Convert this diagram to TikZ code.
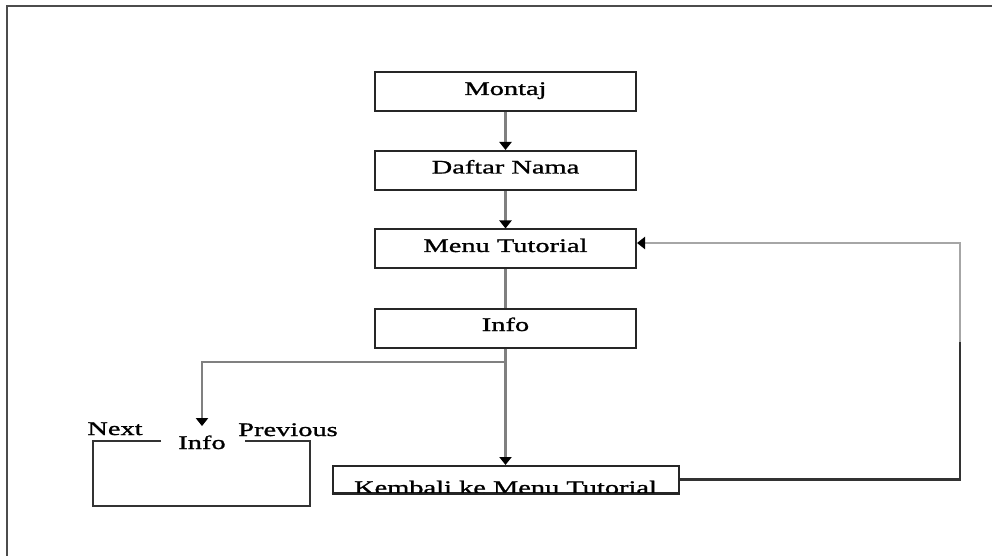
\documentclass[tikz,border=0pt]{standalone}
\usepackage{fontspec}
\setmainfont{Liberation Serif}[FakeStretch=1.48,FakeBold=1.2]
\usetikzlibrary{arrows.meta}

\tikzset{
  box/.style={draw=black!85,line width=1pt,minimum width=130.5pt,minimum height=19.5pt,
    inner sep=0pt,text height=7pt,text depth=4pt,font=\fontsize{9.6}{11}\selectfont},
  lbl/.style={inner sep=0pt,font=\fontsize{9.6}{11}\selectfont},
  link/.style={draw=black!50,line width=1.1pt},
  arr/.style={link,-{Triangle[length=4pt,width=6pt,black]}},
}

\begin{document}
\begin{tikzpicture}[x=0.5pt,y=-0.5pt]
\useasboundingbox (0,0) rectangle (992,556);
\draw[line width=1pt,black!70] (7,556) |- (992,6);

% main column
\node[box] (montaj) at (505.5,92) {Montaj};
\node[box] (daftar) at (505.5,170.5) {Daftar Nama};
\node[box] (menu) at (505.5,249) {Menu Tutorial};
\node[box] (info) at (505.5,328) {Info};
\node[box,minimum width=173pt,minimum height=13.5pt] (kembali) at (505.5,479.5) {};
\node[lbl,anchor=base] (kembalitxt) at (505.5,494) {Kembali ke Menu Tutorial};
\draw[line width=1pt,black!85] (kembali.south west) -- (kembali.south east);

\draw[arr] (montaj) -- (daftar);
\draw[arr] (daftar) -- (menu);
\draw[link] (menu) -- (info);
\draw[arr] (info) -- (kembali);

% info page with next / previous
\node[lbl,anchor=base] (next) at (115,435) {Next};
\node[lbl,anchor=base] (sub) at (202,449) {Info};
\node[lbl,anchor=base] (prev) at (288,436) {Previous};
\draw[line width=1pt,black!80] (161,441) -| (93,506) -| (310,441) -- (245,441);

\coordinate (split) at (505.5,362);
\draw[arr,shorten >=4.5pt] (split) -| (sub.north);

% back to the menu
\coordinate (turn) at (960,342);
\draw[link,draw=black!80] (kembali.east) -| (turn);
\draw[arr,draw=black!35] (turn) |- ([yshift=3pt]menu.east);
\end{tikzpicture}
\end{document}
